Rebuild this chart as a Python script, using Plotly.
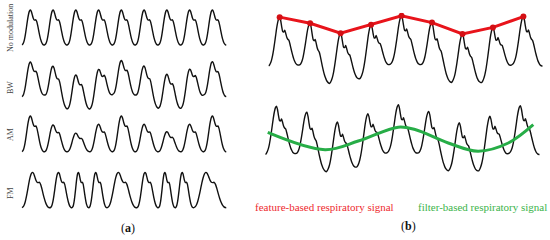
import plotly.graph_objects as go

# ---------------- data ----------------
# one pulse, trough to trough, as a fraction of pulse amplitude (panel a)
beat_shape_a = [0.00, 0.02, 0.07, 0.17, 0.32, 0.50, 0.69, 0.85, 0.96, 1.00,
                0.97, 0.88, 0.78, 0.72, 0.71, 0.72, 0.66, 0.54, 0.40, 0.27,
                0.16, 0.08, 0.03, 0.005]
# one pulse for panel b (sharper dicrotic notch)
beat_shape_b = [0.00, 0.02, 0.06, 0.12, 0.21, 0.33, 0.47, 0.62, 0.77, 0.89,
                0.97, 1.00, 0.93, 0.80, 0.70, 0.69, 0.73, 0.66, 0.58, 0.54,
                0.52, 0.45, 0.36, 0.27, 0.19, 0.12, 0.07, 0.03, 0.01, 0.00]

row_labels = ["No modulation", "BW", "AM", "FM"]

# beat durations (in mean beat periods)
dur_regular = [1, 1, 1, 1, 1, 1, 1, 1, 1]
dur_fm = [1.25, 0.96, 0.74, 0.80, 1.31, 0.95, 0.74, 0.80, 1.45]

# baseline at each beat boundary
base_flat = [0, 0, 0, 0, 0, 0, 0, 0, 0, 0]
base_bw = [-0.02, 0.03, -0.38, -0.38, 0.05, 0.03, -0.36, -0.36, 0.03, -0.02]
base_b = [0.0, 0.02, -0.36, -0.26, 0.04, 0.03, -0.34, -0.34, 0.03, 0.0]

# pulse amplitudes
amp_flat = [1, 1, 1, 1, 1, 1, 1, 1, 1]
amp_am = [1.0, 0.75, 0.52, 0.77, 1.0, 0.77, 0.56, 0.77, 1.0]

# filter-based respiratory signal (panel b, bottom)
filt_t = [0.08, 1.96, 3.05, 4.36, 4.91, 6.0, 6.98, 7.97, 8.79]
filt_y = [0.46, 0.10, 0.28, 0.57, 0.52, 0.24, 0.07, 0.24, 0.62]


# ---------------- helpers ----------------
def build(durs, bases, amps, shape):
    xs, ys, px, py = [], [], [], []
    n = len(shape)
    kpk = shape.index(max(shape))
    t0 = 0.0
    for i, d in enumerate(durs):
        for k in range(n):
            ph = k / n
            b = bases[i] * (1 - ph) + bases[i + 1] * ph
            xs.append(t0 + ph * d)
            ys.append(b + amps[i] * shape[k])
            if k == kpk:
                px.append(xs[-1])
                py.append(ys[-1])
        t0 += d
    xs.append(t0)
    ys.append(bases[-1])
    return xs, ys, px, py


W, H = 550, 240


def xdom(a, b):
    return [a / W, b / W]


def ydom(base_px, unit_px, lo, hi):
    return [1 - (base_px - lo * unit_px) / H, 1 - (base_px - hi * unit_px) / H]


BLACK = dict(color="#111111", width=1.4, shape="spline", smoothing=0.6)
fig = go.Figure()

rows = [
    (dur_regular, base_flat, amp_flat),
    (dur_regular, base_bw, amp_flat),
    (dur_regular, base_flat, amp_am),
    (dur_fm, base_flat, amp_flat),
]
for i, (d, b, a) in enumerate(rows):
    xs, ys, _, _ = build(d, b, a, beat_shape_a)
    fig.add_trace(go.Scatter(x=xs, y=ys, mode="lines", line=BLACK,
                             xaxis=f"x{i+1}", yaxis=f"y{i+1}",
                             hoverinfo="skip", showlegend=False))

xs, ys, px, py = build(dur_regular, base_b, amp_flat, beat_shape_b)
fig.add_trace(go.Scatter(x=xs, y=ys, mode="lines", line=BLACK,
                         xaxis="x5", yaxis="y5", hoverinfo="skip", showlegend=False))
fig.add_trace(go.Scatter(x=px, y=py, mode="lines+markers",
                         line=dict(color="#e8141b", width=3),
                         marker=dict(color="#d40f14", size=6),
                         xaxis="x5", yaxis="y5", hoverinfo="skip", showlegend=False))
fig.add_trace(go.Scatter(x=xs, y=ys, mode="lines", line=BLACK,
                         xaxis="x6", yaxis="y6", hoverinfo="skip", showlegend=False))
fig.add_trace(go.Scatter(x=filt_t, y=filt_y, mode="lines",
                         line=dict(color="#27ad47", width=3, shape="spline", smoothing=1.0),
                         xaxis="x6", yaxis="y6", hoverinfo="skip", showlegend=False))

ax = dict(visible=False, fixedrange=True, showgrid=False, zeroline=False)
layout = dict(width=W, height=H, margin=dict(l=0, r=0, t=0, b=0),
              paper_bgcolor="white", plot_bgcolor="rgba(0,0,0,0)",
              font=dict(family="Liberation Serif, Times New Roman, serif"))

xa = xdom(21.7, 226.5)
ydoms = [ydom(45, 35, -0.1, 1.1), ydom(96, 34, -0.5, 1.1),
         ydom(151.7, 35.7, -0.1, 1.1), ydom(207.7, 35.3, -0.1, 1.1)]
for i in range(4):
    sfx = "" if i == 0 else str(i + 1)
    layout["xaxis" + sfx] = dict(ax, domain=xa, range=[0, 9], anchor="y" + str(i + 1))
    layout["yaxis" + sfx] = dict(ax, domain=ydoms[i], range=[-0.1 if i != 1 else -0.5, 1.1],
                                 anchor="x" + str(i + 1))
layout["xaxis5"] = dict(ax, domain=xdom(268.5, 542.7), range=[0, 9], anchor="y5")
layout["yaxis5"] = dict(ax, domain=ydom(66, 48.5, -0.5, 1.1), range=[-0.5, 1.1], anchor="x5")
layout["xaxis6"] = dict(ax, domain=xdom(265.3, 539.7), range=[0, 9], anchor="y6")
layout["yaxis6"] = dict(ax, domain=ydom(154.5, 48, -0.5, 1.1), range=[-0.5, 1.1], anchor="x6")

fig.update_layout(**layout)

label_y = [28, 88, 135, 193]
for lab, yp in zip(row_labels, label_y):
    fig.add_annotation(text=lab, x=10 / W, y=1 - yp / H, xref="paper", yref="paper",
                       textangle=-90, showarrow=False, xanchor="center", yanchor="middle",
                       font=dict(size=8, color="#444444"))

fig.add_annotation(text="(<b>a</b>)", x=128 / W, y=1 - 228 / H, xref="paper", yref="paper",
                   showarrow=False, xanchor="center", yanchor="middle",
                   font=dict(size=12, color="#111111"))
fig.add_annotation(text="(<b>b</b>)", x=408 / W, y=1 - 226 / H, xref="paper", yref="paper",
                   showarrow=False, xanchor="center", yanchor="middle",
                   font=dict(size=12, color="#111111"))
fig.add_annotation(text="feature-based respiratory signal", x=324.5 / W, y=1 - 207 / H,
                   xref="paper", yref="paper", showarrow=False, xanchor="center", yanchor="middle",
                   font=dict(size=11, color="#ee2a2f"))
fig.add_annotation(text="filter-based respiratory signal", x=482.5 / W, y=1 - 207 / H,
                   xref="paper", yref="paper", showarrow=False, xanchor="center", yanchor="middle",
                   font=dict(size=11, color="#3cb44b"))

fig.write_html("out.html", config={"displayModeBar": False},
               post_script="document.body.style.margin='0';document.body.style.overflow='hidden';")
